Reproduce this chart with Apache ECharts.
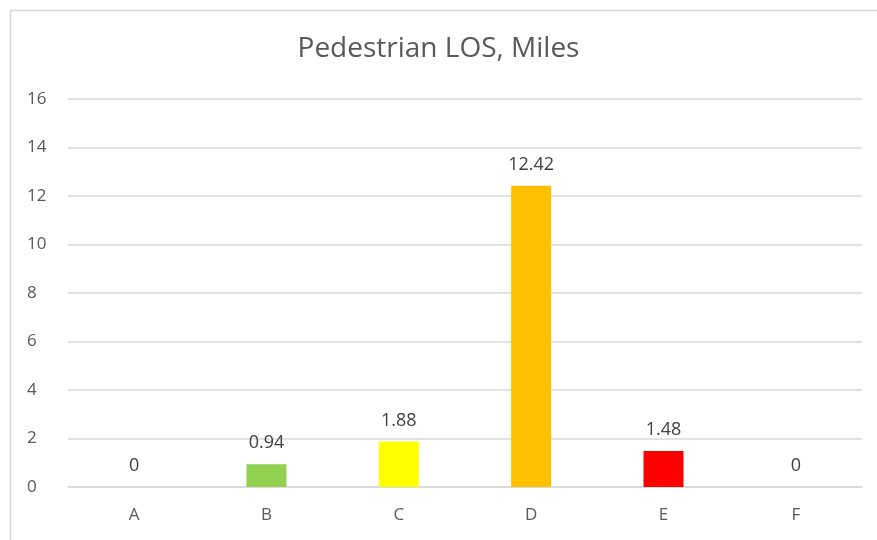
<!DOCTYPE html>
<html>
<head>
<meta charset="utf-8">
<script src="https://cdn.jsdelivr.net/npm/echarts@6/dist/echarts.min.js"></script>
<style>
  html, body { margin: 0; padding: 0; background: #fff; }
  #chart { width: 877px; height: 540px; }
</style>
</head>
<body>
<div id="chart"></div>
<script>
const categories = ['A', 'B', 'C', 'D', 'E', 'F'];
const miles = [0, 0.94, 1.88, 12.42, 1.48, 0];
const barColors = ['#A5A5A5', '#92D050', '#FFFF00', '#FFC000', '#FF0000', '#A5A5A5'];
const yTicks = [0, 2, 4, 6, 8, 10, 12, 14, 16];

const chart = echarts.init(document.getElementById('chart'));
const font = '"Open Sans", "Noto Sans", sans-serif';

chart.setOption({
  animation: false,
  backgroundColor: '#fff',
  graphic: [{
    type: 'rect',
    shape: { x: 10.5, y: 10.5, width: 900, height: 600 },
    style: { fill: 'none', stroke: '#D9D9D9', lineWidth: 1.5 },
    silent: true
  }],
  title: {
    text: 'Pedestrian LOS, Miles',
    left: 'center',
    top: 30,
    textStyle: { fontFamily: font, fontSize: 28, fontWeight: 'normal', color: '#595959' }
  },
  grid: { left: 68, right: 15, top: 99, bottom: 53 },
  xAxis: {
    type: 'category',
    data: categories,
    axisLine: { lineStyle: { color: '#D9D9D9', width: 1.5 } },
    axisTick: { show: false },
    axisLabel: { fontFamily: font, fontSize: 17, color: '#595959', margin: 20 }
  },
  yAxis: {
    type: 'value',
    min: yTicks[0],
    max: yTicks[yTicks.length - 1],
    interval: 2,
    axisLine: { show: false },
    axisTick: { show: false },
    splitLine: { lineStyle: { color: '#D9D9D9', width: 1.5 } },
    axisLabel: { fontFamily: font, fontSize: 17, color: '#595959', margin: 41, align: 'left' }
  },
  series: [{
    type: 'bar',
    data: miles.map((v, i) => ({ value: v, itemStyle: { color: barColors[i] } })),
    barWidth: 40,
    label: {
      show: true,
      position: 'top',
      distance: 12,
      fontFamily: font,
      fontSize: 18,
      color: '#404040'
    }
  }]
});
</script>
</body>
</html>
